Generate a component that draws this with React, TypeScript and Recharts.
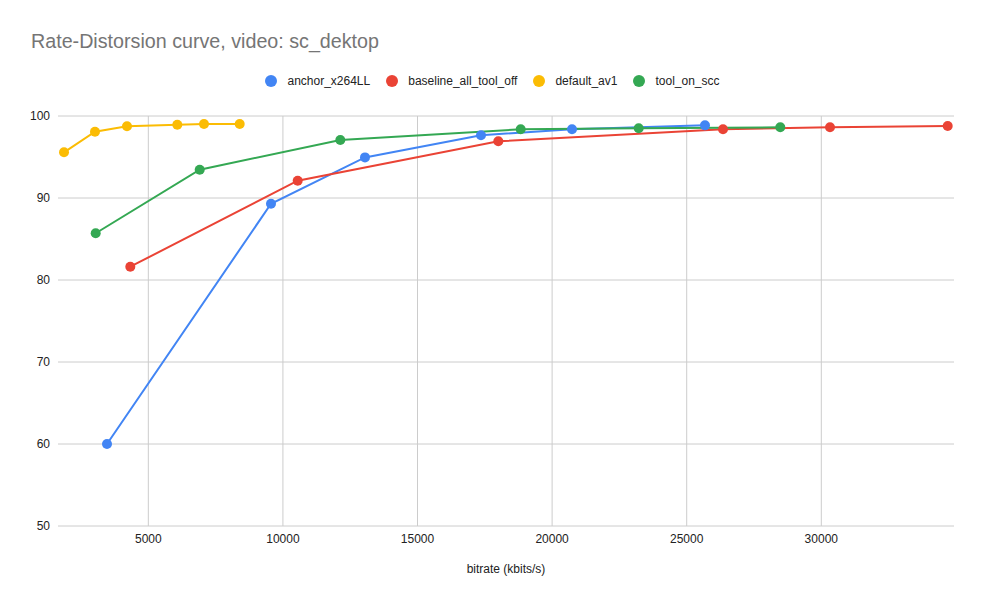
import React from 'react';
import { LineChart, Line, XAxis, YAxis, CartesianGrid } from 'recharts';

const title = 'Rate-Distorsion curve, video: sc_dektop';
const xAxisLabel = 'bitrate (kbits/s)';

const seriesNames = ['anchor_x264LL', 'baseline_all_tool_off', 'default_av1', 'tool_on_scc'];
const seriesColors = ['#4285F4', '#EA4335', '#FBBC04', '#34A853'];

const anchorBitrate = [3465, 9557, 13049, 17358, 20739, 25679];
const anchorQuality = [60.0, 89.3, 94.95, 97.65, 98.38, 98.86];

const baselineBitrate = [4331, 10549, 18001, 26348, 30323, 34695];
const baselineQuality = [81.62, 92.11, 96.91, 98.38, 98.62, 98.78];

const av1Bitrate = [1868, 3019, 4208, 6077, 7068, 8395];
const av1Quality = [95.57, 98.09, 98.74, 98.94, 99.02, 99.02];

const sccBitrate = [3045, 6909, 12132, 18833, 23216, 28476];
const sccQuality = [85.7, 93.45, 97.07, 98.38, 98.5, 98.62];

const xTicks = [5000, 10000, 15000, 20000, 25000, 30000];
const yTicks = [50, 60, 70, 80, 90, 100];
const xDomain = [1645, 34929];
const yDomain = [50, 100];

const zip = (xs: number[], ys: number[]) => xs.map((x, i) => ({ x, y: ys[i] }));

const seriesData = [
  zip(anchorBitrate, anchorQuality),
  zip(baselineBitrate, baselineQuality),
  zip(av1Bitrate, av1Quality),
  zip(sccBitrate, sccQuality),
];

const FONT = '"Liberation Sans", Arial, sans-serif';

const LegendBlock = () => (
  <div style={{ position: 'absolute', left: 0, top: 73, width: 985, height: 16, display: 'flex', justifyContent: 'center', alignItems: 'center', fontFamily: FONT, fontSize: 12, color: '#222' }}>
    {seriesNames.map((n, i) => (
      <div key={n} style={{ display: 'flex', alignItems: 'center', marginRight: i < seriesNames.length - 1 ? 16 : 0 }}>
        <span style={{ display: 'inline-block', width: 12, height: 12, borderRadius: 6, background: seriesColors[i], marginRight: 10 }} />
        <span>{n}</span>
      </div>
    ))}
  </div>
);

const vGen = (props: any) => {
  const axis = props && props.xAxis;
  const scale = axis && axis.scale;
  if (typeof scale === 'function') return xTicks.map((t) => scale(t));
  if (scale && typeof scale.map === 'function') return xTicks.map((t) => scale.map(t));
  return [];
};

export default function App() {
  return (
    <div style={{ position: 'absolute', left: 0, top: 0, width: 985, height: 609, background: '#fff' }}>
      <div style={{ position: 'absolute', left: 31, top: 31, fontFamily: FONT, fontSize: 19.7, lineHeight: '20px', color: '#757575', whiteSpace: 'nowrap' }}>
        {title}
      </div>
      <LegendBlock />
      <LineChart width={985} height={609} margin={{ top: 116, right: 31, bottom: 53, left: 8 }} style={{ position: 'absolute', left: 0, top: 0 }}>
        <CartesianGrid stroke="#cccccc" strokeWidth={1} verticalCoordinatesGenerator={vGen} />
        <XAxis
          type="number"
          dataKey="x"
          domain={xDomain}
          ticks={xTicks}
          allowDataOverflow
          axisLine={false}
          tickLine={false}
          height={30}
          tick={{ fill: '#222', fontSize: 12, fontFamily: FONT }}
          label={{ value: xAxisLabel, position: 'bottom', offset: 8, fill: '#222', fontSize: 12, fontFamily: FONT }}
        />
        <YAxis
          type="number"
          dataKey="y"
          domain={yDomain}
          ticks={yTicks}
          allowDataOverflow
          axisLine={false}
          tickLine={false}
          width={50}
          tick={{ fill: '#222', fontSize: 12, fontFamily: FONT }}
        />
        {seriesNames.map((n, i) => (
          <Line
            key={n}
            name={n}
            data={seriesData[i]}
            dataKey="y"
            type="linear"
            stroke={seriesColors[i]}
            strokeWidth={2}
            dot={{ r: 5, fill: seriesColors[i], stroke: 'none' }}
            activeDot={false}
            isAnimationActive={false}
          />
        ))}
      </LineChart>
    </div>
  );
}
